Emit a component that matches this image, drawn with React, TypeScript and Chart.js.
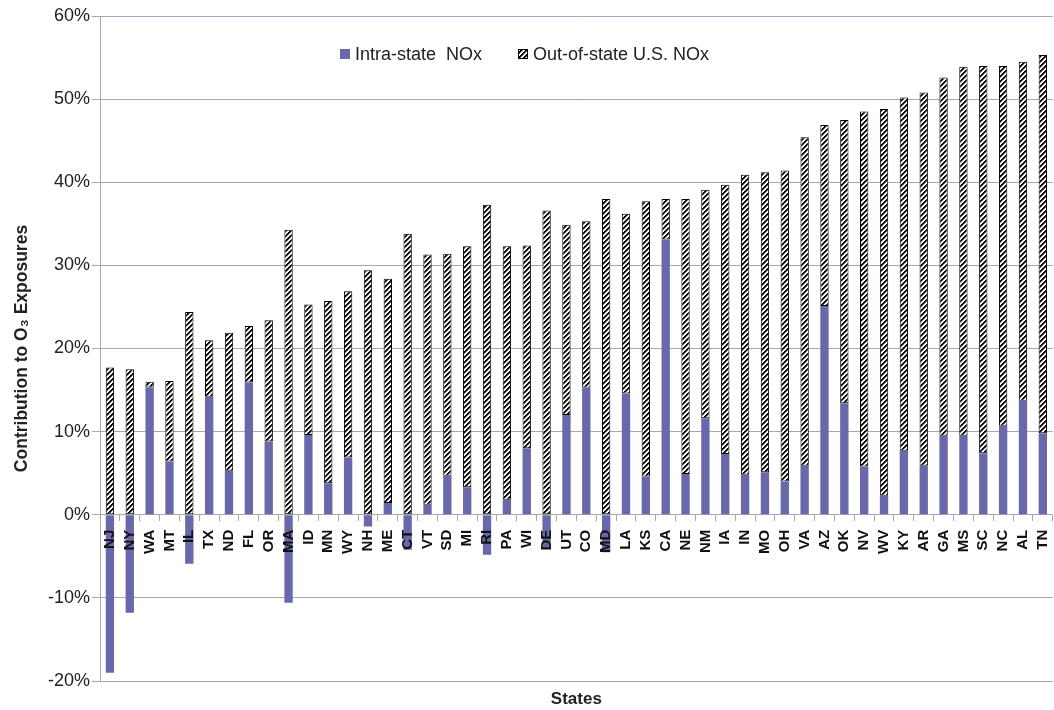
import React, { useEffect, useRef } from 'react';
import { Chart, registerables } from 'chart.js';

Chart.register(...registerables);

const states = [
  'NJ', 'NY', 'WA', 'MT', 'IL', 'TX', 'ND', 'FL', 'OR', 'MA', 'ID', 'MN', 'WY', 'NH', 'ME', 'CT',
  'VT', 'SD', 'MI', 'RI', 'PA', 'WI', 'DE', 'UT', 'CO', 'MD', 'LA', 'KS', 'CA', 'NE', 'NM', 'IA',
  'IN', 'MO', 'OH', 'VA', 'AZ', 'OK', 'NV', 'WV', 'KY', 'AR', 'GA', 'MS', 'SC', 'NC', 'AL', 'TN',
];

const intraState = [
  -19.0, -11.8, 15.3, 6.4, -5.9, 14.2, 5.3, 15.9, 8.8, -10.6, 9.6, 3.8, 6.9, -1.4, 1.4, -4.2,
  1.2, 4.7, 3.3, -4.8, 1.8, 8.0, -4.0, 12.0, 15.3, -4.5, 14.6, 4.6, 33.1, 4.9, 11.6, 7.3,
  4.8, 5.1, 4.0, 5.9, 25.1, 13.4, 5.8, 2.3, 7.7, 5.9, 9.5, 9.5, 7.4, 10.7, 13.7, 9.8,
];

const outOfState = [
  17.7, 17.5, 0.7, 9.7, 24.4, 6.8, 16.6, 6.8, 14.6, 34.3, 15.7, 21.9, 20.0, 29.4, 27.0, 33.8,
  30.1, 26.7, 29.0, 37.3, 30.5, 24.4, 36.6, 22.9, 20.0, 38.0, 21.6, 33.1, 4.9, 33.1, 27.5, 32.4,
  36.1, 36.1, 37.4, 39.5, 21.8, 34.1, 42.7, 46.5, 42.5, 44.9, 43.1, 44.4, 46.6, 43.3, 40.8, 45.5,
];

const seriesLabels = ['Intra-state  NOx', 'Out-of-state U.S. NOx'];
const yMin = -20;
const yMax = 60;
const yStep = 10;

const FONT = "'Liberation Sans', Arial, 'DejaVu Sans', sans-serif";
const PURPLE = '#6868aa';
const GRID = '#a8a8a8';

function makeHatch(): CanvasPattern | string {
  const size = 5;
  const c = document.createElement('canvas');
  c.width = size;
  c.height = size;
  const g = c.getContext('2d');
  if (!g) return '#888';
  const img = g.createImageData(size, size);
  for (let y = 0; y < size; y++) {
    for (let x = 0; x < size; x++) {
      const d = (x + y) % size;
      const v = d < 2 ? 10 : d === 2 ? 120 : 255;
      const i = (y * size + x) * 4;
      img.data[i] = v;
      img.data[i + 1] = v;
      img.data[i + 2] = v;
      img.data[i + 3] = 255;
    }
  }
  g.putImageData(img, 0, 0);
  const p = g.createPattern(c, 'repeat');
  return p || '#888';
}

const insideLegend = {
  id: 'insideLegend',
  afterDraw(chart: any) {
    const { ctx, chartArea } = chart;
    const offsets = [240, 418];
    const y = chartArea.top + 38;
    ctx.save();
    ctx.font = `18px ${FONT}`;
    ctx.textBaseline = 'middle';
    chart.data.datasets.forEach((ds: any, i: number) => {
      const x = chartArea.left + offsets[i];
      ctx.fillStyle = ds.backgroundColor;
      ctx.fillRect(x, y - 5, 10, 10);
      if (ds.borderWidth) {
        ctx.strokeStyle = ds.borderColor;
        ctx.lineWidth = 1;
        ctx.strokeRect(x + 0.5, y - 4.5, 9, 9);
      }
      ctx.fillStyle = '#222';
      ctx.fillText(ds.label, x + 15, y + 1);
    });
    ctx.restore();
  },
};

export default function App() {
  const ref = useRef<HTMLCanvasElement>(null);

  useEffect(() => {
    if (!ref.current) return;
    const hatch = makeHatch();
    const chart = new Chart(ref.current, {
      type: 'bar',
      data: {
        labels: states,
        datasets: [
          {
            label: seriesLabels[0],
            data: intraState,
            backgroundColor: PURPLE,
            borderWidth: 0,
            barPercentage: 0.42,
            categoryPercentage: 1,
          },
          {
            label: seriesLabels[1],
            data: outOfState,
            backgroundColor: hatch as any,
            borderColor: '#000',
            borderWidth: 1,
            borderSkipped: false,
            barPercentage: 0.42,
            categoryPercentage: 1,
          },
        ],
      },
      options: {
        animation: false,
        responsive: false,
        devicePixelRatio: 1,
        layout: { padding: { top: 16, left: 0, right: 7, bottom: 0 } },
        plugins: {
          legend: { display: false },
          tooltip: { enabled: false },
        },
        scales: {
          x: {
            type: 'category',
            stacked: true,
            position: { y: 0 } as any,
            border: { display: false },
            grid: {
              offset: true,
              drawOnChartArea: false,
              drawTicks: true,
              tickLength: 6,
              color: GRID,
            },
            ticks: {
              z: 1,
              autoSkip: false,
              minRotation: 90,
              maxRotation: 90,
              padding: 9,
              color: '#111',
              font: { family: FONT, size: 15, weight: 'bold' },
            },
            afterFit: (scale: any) => {
              scale.height = 0;
            },
          },
          x2: {
            type: 'category',
            position: 'bottom',
            labels: states,
            grid: { display: false, drawTicks: false },
            border: { display: false },
            ticks: { display: false },
            title: {
              display: true,
              text: 'States',
              color: '#222',
              padding: { top: 0, bottom: 0 },
              font: { family: FONT, size: 17, weight: 'bold' },
            },
            afterFit: (scale: any) => {
              scale.height = 29;
            },
          },
          y: {
            stacked: true,
            min: yMin,
            max: yMax,
            border: { display: true, color: GRID, width: 1 },
            grid: {
              color: (c: any) => (c.tick && c.tick.value === yMax ? '#a4a4cc' : GRID),
              lineWidth: 1,
              drawTicks: true,
              tickLength: 8,
            },
            ticks: {
              stepSize: yStep,
              padding: 2,
              color: '#222',
              font: { family: FONT, size: 18 },
              callback: (v: any) => `${v}%`,
            },
            title: {
              display: true,
              text: 'Contribution to O\u2083 Exposures',
              color: '#222',
              padding: { top: 12, bottom: 0 },
              font: { family: FONT, size: 17.5, weight: 'bold' },
            },
            afterFit: (scale: any) => {
              scale.width = 100;
            },
          },
        },
      },
      plugins: [insideLegend],
    });
    return () => chart.destroy();
  }, []);

  return (
    <div
      style={{
        position: 'fixed',
        left: 0,
        top: 0,
        width: 1054,
        height: 710,
        overflow: 'hidden',
        background: '#fff',
      }}
    >
      <canvas ref={ref} width={1070} height={710} style={{ display: 'block' }} />
    </div>
  );
}
